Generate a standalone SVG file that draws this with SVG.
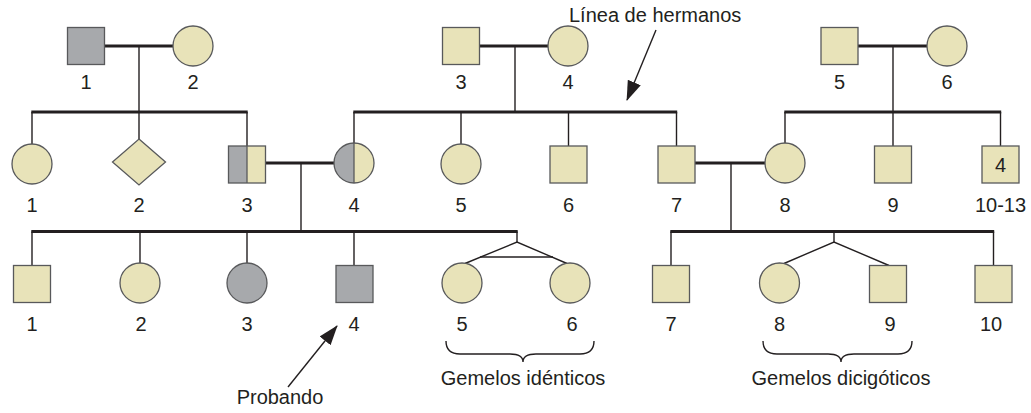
<svg xmlns="http://www.w3.org/2000/svg" width="1031" height="413" viewBox="0 0 1031 413">
<style>
  .c{fill:#E8E3B9;stroke:#58595B;stroke-width:1.3}
  .g{fill:#A7A9AC;stroke:#58595B;stroke-width:1.3}
  .o{fill:none;stroke:#58595B;stroke-width:1.3}
  .thick{stroke:#231F20;stroke-width:3;fill:none}
  .thin{stroke:#231F20;stroke-width:1.4;fill:none}
  text{font-family:"Liberation Sans",Arial,sans-serif;font-size:20px;fill:#231F20;text-anchor:middle}
  .st{text-anchor:start}
</style>
<defs>
  <marker id="ah" viewBox="0 0 20 14" refX="19" refY="7" markerWidth="20" markerHeight="14" markerUnits="userSpaceOnUse" orient="auto">
    <path d="M0,0 L20,7 L0,14 z" fill="#231F20"/>
  </marker>
  <clipPath id="lh3"><rect x="228.5" y="146" width="18.5" height="37"/></clipPath>
  <clipPath id="lh4"><rect x="330" y="140" width="24" height="46"/></clipPath>
</defs>
<rect width="1031" height="413" fill="#fff"/>

<g id="connectors">
  <!-- generation I marriages -->
  <line class="thick" x1="104.5" y1="46" x2="173" y2="46"/>
  <line class="thick" x1="479.5" y1="46" x2="548" y2="46"/>
  <line class="thick" x1="858" y1="46" x2="927" y2="46"/>
  <line class="thin" x1="139" y1="46" x2="139" y2="112"/>
  <line class="thin" x1="515" y1="46" x2="515" y2="112"/>
  <line class="thin" x1="893" y1="46" x2="893" y2="112"/>
  <!-- generation II sibships -->
  <line class="thick" x1="31.3" y1="112" x2="247.7" y2="112"/>
  <line class="thick" x1="353.3" y1="112" x2="677.2" y2="112"/>
  <line class="thick" x1="784.3" y1="112" x2="1001.2" y2="112"/>
  <line class="thin" x1="32" y1="112" x2="32" y2="144"/>
  <line class="thin" x1="139" y1="112" x2="139" y2="139"/>
  <line class="thin" x1="247" y1="112" x2="247" y2="146"/>
  <line class="thin" x1="354" y1="112" x2="354" y2="143"/>
  <line class="thin" x1="461" y1="112" x2="461" y2="144"/>
  <line class="thin" x1="568.5" y1="112" x2="568.5" y2="146"/>
  <line class="thin" x1="676.5" y1="112" x2="676.5" y2="146"/>
  <line class="thin" x1="785" y1="112" x2="785" y2="143"/>
  <line class="thin" x1="893" y1="112" x2="893" y2="146"/>
  <line class="thin" x1="1000.5" y1="112" x2="1000.5" y2="146"/>
  <!-- generation II marriages -->
  <line class="thick" x1="265.5" y1="163" x2="334" y2="163"/>
  <line class="thick" x1="695" y1="163" x2="765" y2="163"/>
  <line class="thin" x1="301" y1="163" x2="301" y2="231.5"/>
  <line class="thin" x1="731" y1="163" x2="731" y2="231.5"/>
  <!-- generation III sibships -->
  <line class="thick" x1="31.3" y1="231.5" x2="517.7" y2="231.5"/>
  <line class="thick" x1="670.3" y1="231.5" x2="994.2" y2="231.5"/>
  <line class="thin" x1="32" y1="231.5" x2="32" y2="265.5"/>
  <line class="thin" x1="140" y1="231.5" x2="140" y2="263"/>
  <line class="thin" x1="247" y1="231.5" x2="247" y2="263"/>
  <line class="thin" x1="354" y1="231.5" x2="354" y2="265.5"/>
  <line class="thin" x1="517" y1="231.5" x2="517" y2="242"/>
  <polyline class="thin" points="465,263.5 517,242 567,263.5"/>
  <line class="thin" x1="480" y1="257" x2="553" y2="257"/>
  <line class="thin" x1="671" y1="231.5" x2="671" y2="265.5"/>
  <line class="thin" x1="834" y1="231.5" x2="834" y2="242"/>
  <polyline class="thin" points="784,263.5 834,242 889,265.5"/>
  <line class="thin" x1="993.5" y1="231.5" x2="993.5" y2="265.5"/>
  <!-- braces -->
  <path class="thin" d="M446,341 Q446,354 460,354 L510,354 Q523,354 523,362 Q523,354 536,354 L580,354 Q594,354 594,341"/>
  <path class="thin" d="M763,341 Q763,354 777,354 L828,354 Q841,354 841,362 Q841,354 854,354 L898,354 Q912,354 912,341"/>
  <!-- pointer arrows -->
  <line class="thin" x1="656" y1="30" x2="627" y2="100" marker-end="url(#ah)"/>
  <line class="thin" x1="288" y1="387" x2="337" y2="326" marker-end="url(#ah)"/>
</g>

<g id="I-1"><rect class="g" x="67.5" y="27.5" width="37" height="37"/><text x="86" y="89">1</text></g>
<g id="I-2"><circle class="c" cx="193" cy="46" r="20"/><text x="193" y="89">2</text></g>
<g id="I-3"><rect class="c" x="442.5" y="27.5" width="37" height="37"/><text x="461" y="89">3</text></g>
<g id="I-4"><circle class="c" cx="568" cy="46" r="20"/><text x="568" y="89">4</text></g>
<g id="I-5"><rect class="c" x="821" y="27.5" width="37" height="37"/><text x="839.5" y="89">5</text></g>
<g id="I-6"><circle class="c" cx="947" cy="46" r="20"/><text x="947" y="89">6</text></g>

<g id="II-1"><circle class="c" cx="32" cy="164" r="20"/><text x="32" y="211.5">1</text></g>
<g id="II-2"><polygon class="c" points="139,139 165.5,162 139,185 112.5,162"/><text x="139" y="211.5">2</text></g>
<g id="II-3"><rect x="228.5" y="146" width="37" height="37" fill="#E8E3B9"/><rect x="228.5" y="146" width="18.5" height="37" fill="#A7A9AC"/><line class="o" x1="247" y1="146" x2="247" y2="183"/><rect class="o" x="228.5" y="146" width="37" height="37"/><text x="247" y="211.5">3</text></g>
<g id="II-4"><circle cx="354" cy="163" r="20" fill="#E8E3B9"/><circle cx="354" cy="163" r="20" fill="#A7A9AC" clip-path="url(#lh4)"/><line class="o" x1="354" y1="143" x2="354" y2="183"/><circle class="o" cx="354" cy="163" r="20"/><text x="354" y="211.5">4</text></g>
<g id="II-5"><circle class="c" cx="461" cy="164" r="20"/><text x="461" y="211.5">5</text></g>
<g id="II-6"><rect class="c" x="550" y="146" width="37" height="37"/><text x="568.5" y="211.5">6</text></g>
<g id="II-7"><rect class="c" x="658" y="146" width="37" height="37"/><text x="676.5" y="211.5">7</text></g>
<g id="II-8"><circle class="c" cx="785" cy="163" r="20"/><text x="785" y="211.5">8</text></g>
<g id="II-9"><rect class="c" x="874.5" y="146" width="37" height="37"/><text x="893" y="211.5">9</text></g>
<g id="II-10-13"><rect class="c" x="982" y="146" width="37" height="37"/><text x="1000.5" y="171.5">4</text><text x="1000.5" y="211.5">10-13</text></g>

<g id="III-1"><rect class="c" x="13.5" y="265.5" width="37" height="37"/><text x="32" y="330.5">1</text></g>
<g id="III-2"><circle class="c" cx="140" cy="283" r="20"/><text x="141" y="330.5">2</text></g>
<g id="III-3"><circle class="g" cx="247" cy="283" r="20"/><text x="247" y="330.5">3</text></g>
<g id="III-4"><rect class="g" x="336" y="265.5" width="37" height="37"/><text x="354" y="330.5">4</text></g>
<g id="III-5"><circle class="c" cx="462" cy="283" r="20"/><text x="462" y="330.5">5</text></g>
<g id="III-6"><circle class="c" cx="570" cy="283" r="20"/><text x="572" y="330.5">6</text></g>
<g id="III-7"><rect class="c" x="652.5" y="265.5" width="37" height="37"/><text x="671" y="330.5">7</text></g>
<g id="III-8"><circle class="c" cx="779.5" cy="283" r="20"/><text x="779.5" y="330.5">8</text></g>
<g id="III-9"><rect class="c" x="869.5" y="265.5" width="37" height="37"/><text x="890" y="330.5">9</text></g>
<g id="III-10"><rect class="c" x="975" y="265.5" width="37" height="37"/><text x="991" y="330.5">10</text></g>

<g id="labels">
  <text class="st" x="569" y="22">Línea de hermanos</text>
  <text x="280" y="404">Probando</text>
  <text x="523" y="385">Gemelos idénticos</text>
  <text x="841" y="385">Gemelos dicigóticos</text>
</g>
</svg>
